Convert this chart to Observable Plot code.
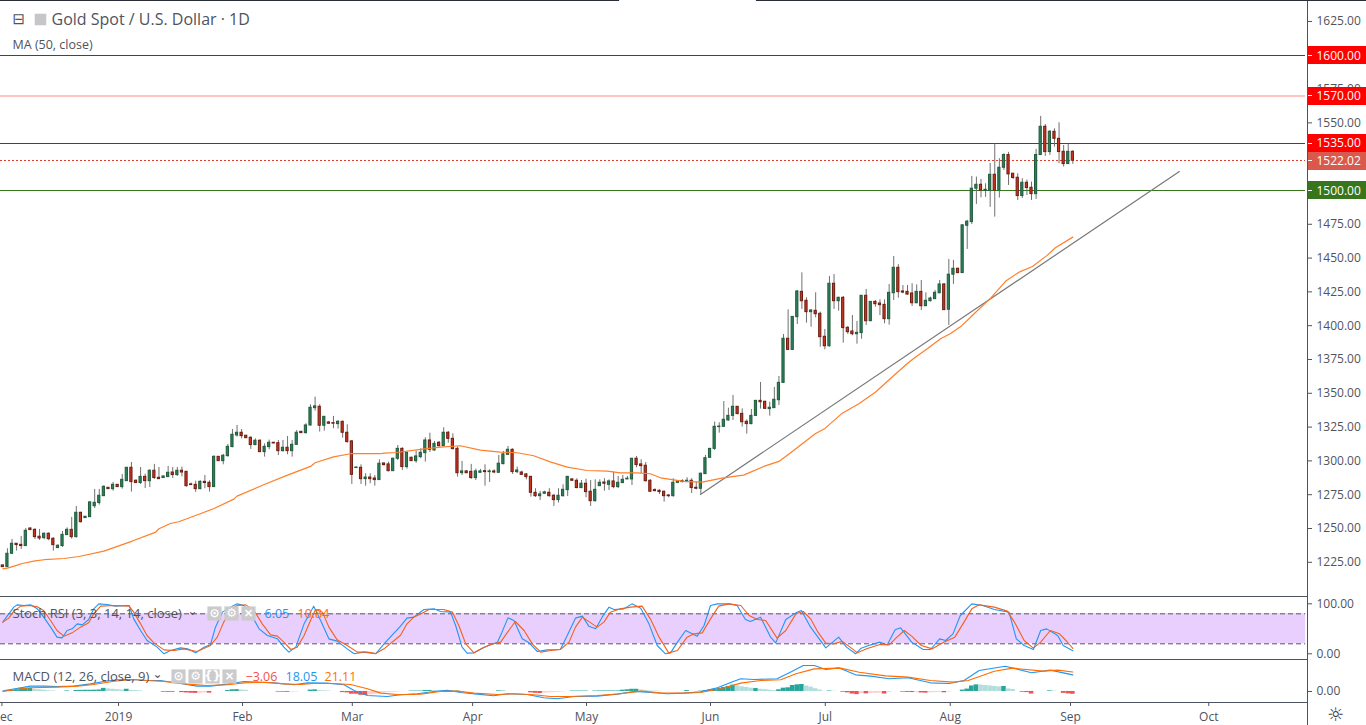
<!DOCTYPE html>
<html><head><meta charset="utf-8">
<script src="https://cdn.jsdelivr.net/npm/d3@7"></script>
<script src="https://cdn.jsdelivr.net/npm/@observablehq/plot@0.6"></script>
<style>
html,body{margin:0;padding:0;background:#fff;overflow:hidden}
#chart{width:1366px;height:725px;line-height:0}
#chart svg{display:block;overflow:visible}
</style></head><body><div id="chart"></div>
<script>
const opens=[1222.7,1221.4,1231.3,1238.7,1237.9,1237,1250,1249,1243.9,1242.9,
1246.1,1242.4,1235.5,1237,1245.1,1249,1243.6,1261.6,1257.7,1258.4,
1266.5,1268.8,1273.9,1280.1,1279.1,1282.3,1280.6,1285,1294.9,1285.3,
1283.6,1288.2,1285,1292.7,1287.5,1287.3,1288,1291.4,1289.5,1292.7,
1291.9,1282.6,1282.3,1279.1,1284.5,1283.8,1280.6,1303,1299.8,1303.5,
1310.2,1318.8,1320.8,1318.6,1317.1,1311.7,1314.9,1306.5,1310.2,1313.4,
1313.1,1307.2,1309.7,1307.2,1311.9,1321.5,1320.5,1326.2,1339,1340,
1326,1328.4,1327.9,1327.2,1328.9,1320.8,1314.4,1294.7,1294.9,1286.5,
1287.7,1287,1285.8,1298.1,1297.4,1292.4,1301.6,1308.9,1295.4,1302.3,
1299.8,1302.8,1305.7,1315.1,1307.7,1313.4,1310.9,1320.8,1316.3,1308.9,
1290.9,1292.2,1291.9,1287.3,1291.2,1292.4,1291.7,1292.2,1291.2,1297.6,
1304.5,1308.2,1291.7,1291.4,1290,1288.2,1276.4,1273.9,1275.7,1276.4,
1274.2,1271,1273.9,1278.4,1286.3,1285.3,1279.9,1283.1,1277.2,1270.2,
1281.3,1284,1282.3,1284.8,1280.6,1283.6,1286.3,1286.3,1301.6,1297.4,
1296.4,1285.3,1278.4,1277.9,1277.2,1274.4,1273.9,1283.8,1285,1284.3,
1285.3,1280.1,1279.4,1290.2,1302.3,1308.9,1325,1325.2,1329.9,1333.3,
1340,1334.8,1328.9,1327.2,1333.3,1344.4,1343.7,1338.3,1339,1344.9,
1357.7,1390.3,1382.1,1406.3,1425,1418.4,1410,1411,1408.8,1391.8,
1384.8,1431,1418.1,1420.6,1398.4,1395.7,1393.7,1394.5,1422.1,1403.3,
1417.6,1416.4,1415.4,1404.8,1424,1442.8,1425.3,1425,1423.8,1416.6,
1425,1414.4,1418.1,1419.6,1424,1430.5,1411.8,1437.7,1442.1,1438.9,
1473.9,1476.6,1501.3,1504.2,1499.8,1500,1511.6,1500,1516.8,1526.2,
1512.4,1509.4,1495.9,1505.7,1502,1497.3,1526.2,1547.1,1528.4,1543.4,
1538.2,1528.6,1519.5,1528.6];
const highs=[1222.9,1235,1241.9,1238.7,1244.1,1250,1250.5,1249.8,1249.3,1246.8,
1246.8,1243.1,1238,1247.8,1250.5,1258.2,1266.3,1262.1,1258.9,1269.8,
1278.9,1278.9,1281.6,1280.3,1284.1,1282.5,1290,1294.9,1298.8,1286,
1295.1,1290.2,1293.4,1297.4,1295.1,1288.7,1295.9,1295.1,1295.1,1295.4,
1292.2,1283.6,1285,1285.3,1289.2,1285.3,1303.8,1303.2,1304.8,1312.2,
1323.2,1326.2,1323.2,1318.8,1317.8,1316.3,1315.6,1312.6,1315.4,1313.6,
1315.1,1315.1,1318,1315.1,1322.5,1321.8,1327.5,1341.5,1347.2,1341.5,
1332.6,1329.2,1332.9,1329.9,1329.4,1326.7,1315.1,1295.4,1297.1,1290.5,
1290.5,1289.2,1300.8,1298.3,1299.1,1302,1311.4,1309.7,1306.5,1302.8,
1307.2,1308.9,1317.1,1320.5,1314.4,1314.4,1324.5,1321.8,1320,1310.2,
1299.6,1292.9,1297.4,1293.9,1293.7,1297.1,1293.4,1293.4,1304,1307,
1310.7,1308.9,1295.4,1292.4,1290.5,1288.5,1279.4,1277.4,1277.6,1279.4,
1275.2,1279.4,1282.3,1288.5,1286.8,1286.8,1285.5,1286.5,1285.5,1286,
1286,1286.8,1286,1291.7,1288.5,1289.2,1288.5,1301.6,1303.3,1300.8,
1298.8,1286,1279.4,1278.6,1277.6,1275.2,1286.8,1285.5,1286,1287.5,
1286.8,1284.3,1291,1304,1309.2,1328.7,1328.2,1343.9,1339,1348.4,
1340.2,1338.5,1330.4,1338,1344.7,1358,1344.2,1343.4,1354.3,1362.4,
1393.5,1411.7,1406.8,1426,1439.1,1420.6,1412,1424.3,1410,1397.2,
1436.4,1437.8,1421.1,1421.6,1399.4,1407.5,1403.1,1422.1,1426.8,1417.6,
1418.6,1419.1,1419.1,1430.5,1451.2,1445.2,1429.7,1429.7,1431,1430.2,
1433.4,1424.3,1421.1,1426,1433.4,1431,1449,1448.3,1442.6,1474.7,
1477.9,1510.4,1509.9,1508.2,1505,1520,1534.3,1523.5,1527.2,1528.2,
1512.4,1512.4,1508.7,1507.7,1506.2,1530.4,1554.8,1548.8,1544.4,1545.6,
1550.1,1533.3,1534.1,1529.4];
const lows=[1221.2,1221.2,1230.8,1233.3,1234.5,1236.7,1248.5,1241.9,1241.2,1241.7,
1240.9,1233.3,1235.2,1236,1244.9,1242.1,1242.9,1254,1257.5,1258.2,
1264.8,1267.3,1273.7,1278.9,1277.6,1280.4,1279.1,1285,1276.9,1283.3,
1282.6,1279.6,1280.3,1286.3,1286.3,1287.1,1287.7,1287,1288.5,1288.2,
1280.6,1281.9,1276.7,1278.6,1279.4,1276.9,1280.6,1299.6,1297.1,1302.8,
1309.7,1317.6,1316.3,1316.6,1308.5,1311.2,1306,1302.8,1308.2,1312.7,
1304,1306.5,1304.5,1302.8,1311.4,1320.3,1320,1325.7,1336.8,1321.3,
1322,1327,1323.8,1323.5,1316.8,1313.2,1282.6,1294.4,1282.6,1281.3,
1283.1,1281.3,1285.5,1296.1,1291.9,1292.2,1300.3,1292.9,1293.9,1299.6,
1298.3,1301.6,1299.1,1306.2,1307.2,1310.2,1310.7,1313.1,1308.2,1288,
1289.2,1290.5,1286.3,1285.5,1291,1281.3,1284.1,1290.5,1291,1297.1,
1304,1290,1290.5,1289.2,1286,1273.2,1273,1270.7,1275.2,1273.2,
1266.3,1268.8,1273.2,1273.7,1284.8,1279.4,1279.4,1272.7,1266.3,1269.5,
1281.1,1277.6,1278.1,1279.4,1279.6,1283.1,1286.3,1281.8,1294.9,1290.5,
1284.3,1276.7,1277.2,1275.2,1269.5,1272.7,1273.2,1283.1,1283.8,1284.1,
1275.9,1278.6,1275.2,1290,1301.8,1307.7,1320.5,1325,1329.4,1329.9,
1334.1,1325,1319.8,1326.7,1332.8,1338.3,1338,1333.1,1338.8,1341,
1357.5,1381.6,1381.6,1400.9,1412,1401.9,1398.9,1405.8,1384.1,1382.1,
1384.1,1412,1410.7,1387.1,1393.5,1392.5,1386.3,1390,1400.1,1403.1,
1413.7,1407.5,1401.4,1400.4,1418.6,1420.3,1423.6,1422.6,1414.2,1416.2,
1411.2,1414.2,1417.6,1419.6,1423.6,1411.2,1400.2,1430.5,1438.4,1438.7,
1456.4,1474.9,1489.7,1494.6,1494.9,1487.5,1480.3,1494.4,1514.8,1503.7,
1508.2,1492.6,1494.1,1496.3,1492.6,1493.4,1525.9,1525.2,1525.9,1532.1,
1519.8,1517.3,1519.3,1519.3];
const closes=[1221.4,1231.3,1238.7,1237.7,1237,1248.3,1248.8,1243.6,1242.6,1246.1,
1242.1,1237.7,1237.2,1245.3,1249,1243.6,1261.6,1254.7,1258.7,1269.3,
1269,1274.2,1280.8,1279.1,1282.3,1280.6,1286,1294.9,1284.3,1283.6,
1288.2,1285,1292.7,1287.3,1286.5,1288.5,1291.2,1289.5,1292.7,1291.4,
1281.3,1282.1,1279.1,1284.5,1283.6,1280.6,1303,1299.8,1303.8,1310.4,
1319.3,1320.8,1318.3,1316.8,1311.7,1314.9,1306.5,1310.4,1313.4,1312.9,
1307.2,1309.7,1307.2,1311.9,1320.8,1320.5,1326.2,1339.3,1340.3,1326,
1332.6,1327.5,1327.5,1328.9,1320.8,1313.9,1289.7,1295.1,1286.5,1287.7,
1286.5,1285.8,1297.9,1296.9,1292.4,1301.6,1308.9,1295.4,1306,1299.8,
1303.3,1306,1315.1,1308.2,1312.6,1310.9,1320.8,1316.3,1308.7,1290.9,
1292.2,1290.9,1287.3,1292.2,1292.2,1291.7,1292.2,1291.4,1297.9,1304.8,
1308.2,1291.7,1292.9,1289.7,1288,1276.4,1273.9,1275.2,1276.7,1273.9,
1271,1274.2,1278.6,1288.2,1285.3,1279.9,1283.1,1276.9,1270.2,1278.6,
1283.8,1283.1,1284.8,1280.6,1283.8,1286,1286.8,1301.6,1296.9,1296.1,
1285,1277.2,1277.6,1276.9,1273.9,1273.9,1283.8,1285,1284.3,1285.3,
1279.9,1279.4,1290.5,1302,1308.9,1325.2,1325.4,1330.4,1333.3,1340,
1334.6,1328.6,1327.2,1333.3,1344.4,1343.4,1338.5,1339.3,1345.2,1357.7,
1390.3,1382.1,1406.5,1425.3,1418.1,1410,1411.2,1408.5,1391.5,1384.8,
1431,1418.1,1420.6,1398.2,1395.2,1393.7,1394.7,1422.1,1403.3,1417.6,
1415.9,1415.2,1404.8,1424.3,1442.8,1424.8,1424.5,1423,1416.6,1425,
1414.4,1418.4,1420.1,1424.3,1430.5,1411.5,1437.7,1442.1,1438.9,1474.2,
1476.9,1501.3,1504.2,1500,1500.5,1511.6,1500,1516.8,1526.2,1511.9,
1509.2,1495.9,1505.7,1501.8,1497.3,1526.2,1547.1,1528.4,1543.4,1538.2,
1528.4,1519.5,1528.6,1522.02];

// [bar position, value] pairs
const ma50=[[0,1220.2],[1,1220.7],[3,1222.7],[4,1223.9],[7,1226.1],[9,1226.9],[13.3,1227.8],[16.6,1229.3],[22,1233.3],[28.2,1240.7],[33.3,1247.3],[34,1249.8],[36.5,1253.7],[38.3,1255],[43,1260.9],[46,1264.8],[50.3,1271.7],[51,1273.9],[56.8,1282.3],[62,1289.5],[67,1295.9],[68,1298.6],[72,1303],[75.7,1305.3],[82.2,1305.3],[83,1305.7],[85.8,1306.2],[90.9,1308.5],[95.3,1310.2],[99.6,1311.2],[104,1308],[108.3,1306.5],[112,1306],[115.6,1303.8],[119.2,1299.3],[122.9,1295.4],[127.2,1292.9],[131.6,1292.4],[134.5,1291.2],[138.1,1291.2],[141,1290.5],[143.2,1287.5],[146.1,1286],[148.3,1284.8],[152.3,1284.3],[156.3,1287],[159.2,1288.5],[161.3,1289.5],[165.7,1295.9],[169,1299.6],[172.2,1307.7],[176.9,1320],[179.1,1324.2],[182.8,1335.3],[186.4,1342.2],[190,1350.8],[193.6,1361.9],[196.9,1371.8],[198.7,1376.7],[201.3,1382.9],[204.2,1390.3],[206.3,1394],[208.9,1400.2],[211.5,1408.8],[215.1,1420.4],[218.4,1433],[221.3,1439.6],[224.2,1443.8],[227.4,1452],[229.2,1457.6],[233,1465.5]];

const stochK=[[0,63.3],[1.3,79.9],[2.4,93.3],[3.1,97.9],[4.6,96.6],[6,97.9],[7.5,89.9],[8.9,73.3],[10.4,53.3],[11.8,33.3],[12.9,31.9],[14,46.6],[15.1,49.9],[16.2,59.9],[17.3,57.9],[18.7,68.6],[19.8,89.9],[20.9,99.9],[22.7,98.6],[24.5,95.3],[27.5,96.6],[28.5,69.9],[30,46.6],[31.4,26.6],[33.6,13.3],[35.1,0],[36.5,6.6],[38.7,11.9],[40.2,9.9],[42,1.9],[43.8,13.3],[45.2,17.9],[46.3,53.3],[47.8,83.3],[49.6,93.3],[51,99.9],[52.5,96.6],[54,79.9],[55.8,49.9],[57.6,36.6],[59.8,29.9],[61.2,13.3],[62.3,3.3],[63.8,13.3],[65.6,59.9],[67.7,95.3],[69.2,66.6],[71,29.9],[72.8,25.3],[75,9.9],[76.5,0],[78.6,3.3],[81.2,0],[83,19.9],[86.6,55.3],[88,71.3],[89.5,73.3],[91.7,88.6],[93.9,89.9],[95.3,84.6],[97.5,83.3],[98.6,56.6],[100,13.3],[101.1,1.3],[102.6,1.9],[104.8,13.3],[107.7,23.3],[108.7,43.3],[110,71.9],[111.3,66.6],[113.1,29.9],[114.6,21.9],[116.4,4.6],[118.5,7.9],[121.4,8.6],[122.9,36.6],[124.7,71.3],[126.2,75.3],[127.6,55.3],[129.1,49.9],[130.5,73.3],[132,93.3],[133.1,88.6],[135.2,89.9],[137,99.9],[138.9,91.3],[140.7,59.9],[142.5,16.6],[144.3,0],[145.4,1.9],[146.9,23.3],[148.7,46.6],[151.2,35.3],[152.7,56.6],[154.1,96.6],[155.6,99.9],[158.1,99.9],[159.9,96.6],[161.7,68.6],[162.8,64.6],[165,73.3],[167.2,33.3],[168.3,21.9],[170.5,68.6],[172.7,81.9],[173.9,86.6],[175.9,53.3],[179.2,11.9],[182,33.3],[183.7,13.3],[185.7,0],[186.9,11.3],[189,17.9],[191,23.3],[192.6,17.9],[194.3,47.9],[195.5,51.9],[197.9,23.3],[200.4,8.6],[202,8.6],[204,29.9],[205.3,26.6],[206.9,39.9],[208.5,76.6],[211,99.9],[213.4,96.6],[215.9,88.6],[219.1,83.3],[220.7,29.9],[222.4,16.6],[224.4,8.6],[226,46.6],[227.3,49.9],[229.7,36.6],[230.9,16.6],[233,6.05]];
const stochD=[[0,63.3],[1.3,71.3],[2.4,85.3],[3.9,95.3],[6,96.6],[7.5,93.9],[8.9,86.6],[10.4,66.6],[11.8,46.6],[13.3,35.3],[15.1,41.9],[16.9,53.3],[18.7,61.9],[19.8,79.9],[21.3,95.3],[24.2,96.6],[27.5,95.3],[28.5,83.3],[30,59.9],[31.4,36.6],[32.9,21.9],[35.1,7.9],[37.3,6.6],[39.4,9.9],[42.3,4.6],[45.2,16.6],[46.7,33.3],[48.1,63.3],[49.6,86.6],[51,96.6],[52.9,97.9],[54.7,86.6],[56.5,59.9],[58.3,37.9],[59.8,35.3],[61.2,23.3],[62.7,8.6],[64.1,13.3],[65.6,36.6],[67,66.6],[68.1,88.6],[69.6,83.3],[71,53.3],[72.8,27.9],[75,16.6],[77.2,3.3],[79.4,3.3],[81.2,0.6],[83,9.9],[86.6,37],[88,59.9],[89.5,73.3],[91.7,83.3],[92.8,88.6],[94.6,88.6],[96,88.6],[97.9,83.3],[99.3,56.6],[100.8,19.9],[102.6,1.9],[104.4,11.3],[106.2,18.6],[108.4,23.3],[109.8,41.9],[111.6,64.6],[113.5,46.6],[115.3,19.9],[117.1,3.3],[119.3,6.6],[121.4,8.6],[123.3,23.3],[124.7,53.3],[126.2,73.3],[129.4,53.3],[130.9,63.3],[132.3,83.3],[134.5,89.9],[136.7,93.3],[139.2,95.3],[141,69.9],[142.9,33.3],[145,1.9],[146.9,6.6],[149,33.3],[150.5,39.9],[152.3,41.9],[154.1,69.9],[155.9,95.3],[158.1,99.9],[160.7,96.6],[162.5,76.6],[164.3,68.6],[166.1,66.6],[168.6,31.3],[170.5,46.6],[172.7,79.9],[174.3,84.6],[175.9,69.9],[177.5,43.3],[179.2,21.3],[180.8,19.9],[182.8,24.6],[184.5,13.3],[186.1,1.9],[188.1,9.9],[191,18.6],[193,17.9],[194.7,33.3],[196.3,46.6],[197.9,35.3],[200,16.6],[202.4,9.9],[204.9,23.3],[207.3,33.3],[209.3,63.3],[211,89.9],[212.6,97.9],[215.9,93.3],[218.7,85.3],[220.3,63.3],[222.4,26.6],[224.4,11.3],[226,23.3],[228.1,46.6],[230.1,39.9],[231.7,24.6],[233,10.84]];

const macdLine=[[0,0.4],[1.7,2.2],[3.9,4],[6,5.8],[8.9,5.8],[11.8,5.4],[15.5,5.8],[19.1,8.3],[22,10.9],[24.9,12.7],[28.2,13.1],[31.4,12],[34.3,12],[38.7,8.7],[42.3,5.8],[45.2,5.8],[48.9,8],[52.5,10.9],[56.1,10.1],[59,9.4],[63.4,7.3],[66.3,9.4],[70.6,9.1],[74.3,7.3],[76.5,1.1],[79.4,-4.3],[83.7,-5.4],[86.6,-3.6],[90.2,-2.5],[93.9,0],[96.8,1.4],[99.7,-1.1],[103.3,-2.9],[106.9,-4.7],[109.8,-2.5],[114.2,-3.3],[117.8,-6.9],[120.7,-8],[124.4,-5.4],[129.4,-5.1],[133.8,-2.9],[137.4,0],[140.3,-0.7],[144.7,-2.5],[148.3,-1.8],[151.9,-0.4],[155.6,4],[159.2,11.2],[160.7,13.8],[163.6,13.1],[168.6,13.8],[171.8,21.7],[174.3,28.3],[176.7,28.3],[179.2,23.9],[182,25.7],[185.7,18.1],[189,16.7],[193,13.8],[197.1,14.9],[202,9.4],[206.1,8.7],[209.3,12],[212.6,22.8],[218.3,27.5],[224,20.3],[228.1,23.2],[233,18.05]];
const macdSignal=[[0,0],[2.4,1.8],[6,4],[11.8,4.7],[16.2,5.8],[19.8,7.6],[24.2,11.2],[28.2,13.1],[31.4,12],[35.1,10.9],[40.2,8],[44.5,6.5],[48.9,7.3],[52.5,9.4],[56.9,10.1],[61.2,8.3],[64.8,7.6],[67.7,8.7],[72.1,8.7],[75.7,7.6],[79.4,2.9],[82.3,-1.8],[86.6,-3.6],[91,-2.9],[95.3,0],[99,0.4],[102.6,-1.8],[107.7,-3.3],[111.3,-2.5],[115.6,-3.6],[119.3,-5.4],[123.6,-5.4],[129.4,-4.3],[134.5,-2.5],[138.9,0.4],[143.2,-1.4],[147.6,-1.8],[151.9,-1.1],[156.3,2.9],[160.7,9.1],[165,12],[169.4,12.7],[172.7,19.2],[176.7,24.6],[182.4,25.4],[186.5,21],[192.2,17],[197.1,15.6],[202,12],[206.9,10.2],[210.2,12],[215.9,22.1],[219.9,25.4],[226.5,22.1],[229.7,23.2],[233,21.11]];

const histRising=[[1,1.2],[2,1.2],[3,1.2],[4,3.4],[5,3.6],[6,3.4],[14,.6],[16,1.1],[17,1.2],[18,1.3],[19,1.3],[20,1.4],[21,1.6],[22,3.4],[27,2.4],[49,1],[50,1.8],[51,2],[67,1.5],[68,1.8],[89,.5],[90,.5],[91,.5],[92,1.1],[93,1.1],[98,.5],[99,.5],[108,.7],[109,.4],[124,.5],[125,.5],[126,.5],[127,.5],[129,.5],[130,.6],[131,.6],[132,.6],[133,.6],[134,.6],[135,1.4],[136,1.8],[137,2.4],[138,2.4],[149,1],[152,.4],[153,1],[154,1.5],[155,2.4],[156,3.4],[157,4.4],[158,5.5],[159,6.9],[164,3.2],[169,1.8],[170,3.6],[171,4],[172,6.5],[173,7.2],[174,7.6],[180,.5],[209,1.5],[210,2.6],[211,6],[212,7.2],[218,5.4],[228,.7]];
const histFalling=[[7,2.2],[8,1.8],[9,1.4],[10,.8],[11,.6],[23,2.8],[24,2.4],[25,2],[26,1.6],[28,1.2],[29,1],[30,.7],[52,1.6],[53,1.2],[69,1],[70,.8],[71,.5],[94,1],[95,.8],[96,.6],[139,1.6],[140,1.2],[141,.6],[142,.5],[143,.3],[160,6],[161,5],[162,4.4],[163,3.6],[165,2.4],[166,2],[167,1.4],[168,.9],[175,6],[176,4.8],[177,3],[178,1.5],[181,.3],[213,7],[214,6.5],[215,6],[216,5.5],[217,5],[219,2.8],[220,2.2],[229,.5]];
const histNegFalling=[[35,-.8],[36,-.9],[37,-.9],[39,-1.2],[40,-1.6],[41,-1.9],[42,-2.1],[45,-1.8],[60,-.7],[61,-.8],[62,-.9],[74,-1.2],[75,-1.5],[76,-3],[77,-3],[78,-4.2],[79,-4.4],[115,-1.5],[116,-2],[117,-2.2],[183,-.8],[184,-1.5],[185,-2.8],[186,-3.4],[188,-2.6],[192,-2.8],[196,-.7],[197,-1],[198,-1.2],[200,-1.6],[201,-1.8],[205,-1.4],[222,-.8],[223,-1.2],[224,-2.8],[231,-2],[232,-2.6],[233,-3.06]];
const histNegRising=[[43,-1.9],[44,-1.6],[63,-.7],[64,-.5],[80,-3.6],[81,-3.2],[82,-2.6],[83,-1.6],[84,-1.2],[85,-.9],[86,-.6],[118,-1.9],[119,-1.5],[120,-1.2],[121,-.9],[122,-.5],[187,-2.2],[189,-2.2],[190,-2],[191,-1.8],[193,-1],[199,-1],[202,-1.5],[203,-1.2],[204,-1],[206,-.6]];

const priceTicks=[1225,1250,1275,1300,1325,1350,1375,1400,1425,1450,1475,1500,1525,1550,1575,1600,1625];
const stochTicks=[0,100];
const macdTicks=[0];
const stochBand=[20,80];
const monthBars=[-0.2,25.2,52.2,76.1,102.3,127.1,154.1,179.1,206.3,232.5,262.6];
const monthNames=["Dec","2019","Feb","Mar","Apr","May","Jun","Jul","Aug","Sep","Oct"];
const levels=[
  {price:1600,line:"#e60000",pill:"#ff0000"},
  {price:1535,line:"#e60000",pill:"#ff0000"},
  {price:1500,line:"#38761d",pill:"#38761d"}
];
const softLevel=[{price:1570,line:"#ffc4c4",pill:"#ff0000"}];
const lastPrice=[{price:1522.02,line:"#e23b2a",pill:"#d9594c"}];
const allLevels=[...levels,...softLevel,...lastPrice];
const trendBars=[151.9,256.2];
const trendPrices=[1275.2,1514];
const topEdgeGaps=[[-1,134.3],[164.1,300]];

const FONT='"Open Sans",sans-serif';
const INK="#50535e";
const LINE="#4c525e";
const W=1366;
const xLeft=-0.507, xRight=284.1, xEnd=xRight+59/4.592;
const bars=d3.range(opens.length);
const xOpts={domain:[xLeft,xRight],axis:null};
const common={width:W,marginLeft:0,marginRight:59,marginTop:0,style:{fontFamily:FONT,background:"#fff",color:INK}};
const yAxis=(ticks,fmt=d=>d.toFixed(2))=>Plot.axisY(ticks,{anchor:"right",label:null,tickSize:4,tickPadding:5,tickFormat:fmt,fontSize:12,stroke:INK,fill:INK,textStroke:"none"});
const label=(t,dx,dy,opts={})=>Plot.text([t],{frameAnchor:"top-left",textAnchor:"start",lineAnchor:"middle",dx,dy,text:d=>d,fontSize:12.5,fill:INK,...opts});
const button=(dx,dy,glyph)=>[
  Plot.dot([0],{frameAnchor:"top-left",dx,dy,symbol:"square",r:8,fill:"#cbcbcd"}),
  Plot.text([glyph],{frameAnchor:"top-left",textAnchor:"middle",lineAnchor:"middle",dx,dy,text:d=>d,fill:"#fff",fontSize:12,fontWeight:"bold",fontFamily:"DejaVu Sans"})
];
const UP="#2f7f5c",UPB="#1f5c3d",DN="#c9371f",DNB="#6e1b10",WICK="#707070";

const main=Plot.plot({...common,height:596,marginBottom:0,
  x:xOpts,y:{domain:[1199.7,1640.5],axis:null},
  marks:[
    yAxis(priceTicks),
    Plot.ruleX([xRight],{stroke:LINE}),
    ...topEdgeGaps.map(g=>Plot.ruleY([1640.5],{x1:g[0],x2:g[1],stroke:"#2a2e39"})),
    Plot.ruleY(levels,{y:"price",x1:xLeft,x2:xRight-0.4,stroke:"line",shapeRendering:"crispEdges"}),
    Plot.ruleY(softLevel,{y:"price",x1:xLeft,x2:xRight-0.4,stroke:"line",strokeWidth:2,shapeRendering:"crispEdges"}),
    Plot.ruleY(lastPrice,{y:"price",x1:xLeft,x2:xRight-0.4,stroke:"line",strokeDasharray:"2,2",shapeRendering:"crispEdges"}),
    Plot.line(trendBars.map((b,i)=>[b,trendPrices[i]]),{x:"0",y:"1",stroke:"#787878",strokeWidth:1.2}),
    Plot.ruleX(bars,{x:i=>i,y1:i=>lows[i],y2:i=>highs[i],stroke:WICK,strokeWidth:1}),
    Plot.rect(bars,{x1:i=>i-0.24,x2:i=>i+0.24,y1:i=>opens[i],y2:i=>closes[i],
      fill:i=>closes[i]>=opens[i]?UP:DN,stroke:i=>closes[i]>=opens[i]?UPB:DNB,strokeWidth:1}),
    Plot.line(ma50,{x:"0",y:"1",stroke:"#ff7f2a",strokeWidth:1.2}),
    Plot.ruleY(allLevels,{y:"price",x1:xRight+0.15,x2:xEnd,stroke:"pill",strokeWidth:18,shapeRendering:"crispEdges"}),
    Plot.ruleY(allLevels,{y:"price",x1:xRight+0.15,x2:xRight+1,stroke:"#fff",shapeRendering:"crispEdges"}),
    Plot.text(allLevels,{x:()=>xRight,y:"price",dx:9,dy:0.5,textAnchor:"start",text:d=>d.price.toFixed(2),fill:"#fff",fontSize:12}),
    label("⊟",12,19,{fontFamily:"DejaVu Sans",fontSize:15}),
    Plot.dot([0],{frameAnchor:"top-left",dx:40,dy:19,symbol:"square",r:6.5,fill:"#c6c6c9"}),
    label("Gold Spot / U.S. Dollar · 1D",51,19.5,{fontSize:16,letterSpacing:0.2}),
    label("MA (50, close)",12,44)
  ]});

const stoch=Plot.plot({...common,height:63,marginBottom:0,
  x:xOpts,y:{domain:[-11.4,114.6],axis:null},
  marks:[
    Plot.rect([0],{x1:xLeft,x2:xRight-0.4,y1:stochBand[0],y2:stochBand[1],fill:"#e9cffd"}),
    Plot.ruleY(stochBand,{x1:xLeft,x2:xRight-0.4,stroke:"#5d5468",strokeDasharray:"5,3"}),
    Plot.ruleY([114.6],{x1:xLeft,x2:xRight,stroke:LINE}),
    Plot.ruleX([xRight],{stroke:LINE}),
    yAxis(stochTicks),
    Plot.line(stochK,{x:"0",y:"1",stroke:"#2196f3",strokeWidth:1.1}),
    Plot.line(stochD,{x:"0",y:"1",stroke:"#f4601e",strokeWidth:1.1}),
    label("Stoch RSI (3, 3, 14, 14, close)",12,17,{fontSize:13}),
    label("⌄",187,15,{fontFamily:"DejaVu Sans",fontSize:12}),
    ...button(214,17,"⊙"),...button(231,17,"⚙"),...button(248,17,"×"),
    label("6.05",264,17,{fill:"#2196f3"}),
    label("10.84",297,17,{fill:"#ff6d00"})
  ]});

const histMark=(rows,fill)=>Plot.rect(rows,{x1:d=>d[0]-0.5,x2:d=>d[0]+0.5,y1:()=>0,y2:d=>d[1],fill});
const macd=Plot.plot({...common,height:66,marginBottom:23,
  x:xOpts,y:{domain:[-12,34.8],axis:null},
  marks:[
    Plot.ruleY([34.8],{x1:xLeft,x2:xRight,stroke:LINE}),
    Plot.ruleY([-12],{x1:xLeft,x2:xRight,stroke:LINE}),
    Plot.ruleX([xRight],{y1:34.8,y2:-38,stroke:LINE}),
    yAxis(macdTicks),
    Plot.axisX(monthBars,{anchor:"bottom",label:null,tickSize:4,tickPadding:6,tickFormat:d=>monthNames[monthBars.indexOf(d)],fontSize:12,stroke:INK,fill:INK}),
    histMark(histRising,"#26a69a"),
    histMark(histFalling,"#b2dfdb"),
    histMark(histNegFalling,"#ef5350"),
    histMark(histNegRising,"#ffcdd2"),
    Plot.line(macdLine,{x:"0",y:"1",stroke:"#2196f3",strokeWidth:1.1}),
    Plot.line(macdSignal,{x:"0",y:"1",stroke:"#ff6d00",strokeWidth:1.1}),
    label("MACD (12, 26, close, 9)",12,17,{fontSize:13}),
    label("⌄",152,15,{fontFamily:"DejaVu Sans",fontSize:12}),
    ...button(178,17,"⊙"),...button(195,17,"⚙"),...button(212,17,"{}"),...button(229,17,"×"),
    label("−3.06",245,17,{fill:"#ef5350"}),
    label("18.05",285,17,{fill:"#2196f3"}),
    label("21.11",324,17,{fill:"#ff6d00"}),
    Plot.text(["☼"],{frameAnchor:"bottom-right",textAnchor:"middle",lineAnchor:"middle",dx:28,dy:12,text:d=>d,fontFamily:"DejaVu Sans",fontSize:19,fill:"#363a45"})
  ]});

const root=document.getElementById("chart");
root.append(main,stoch,macd);
</script></body></html>
